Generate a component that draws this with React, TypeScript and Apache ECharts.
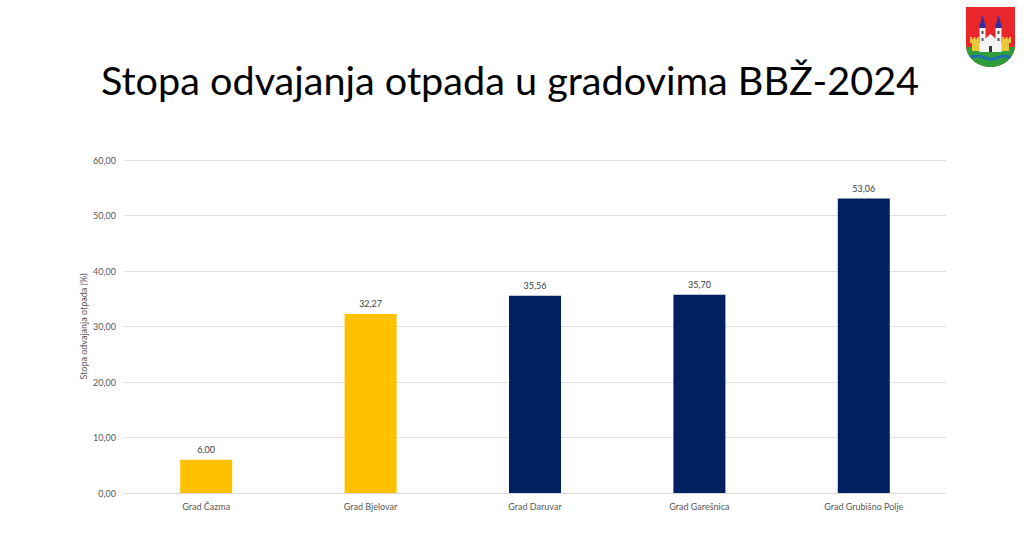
import React, { useEffect, useRef } from "react";
import * as echarts from "echarts";

const titleText = "Stopa odvajanja otpada u gradovima BBŽ-2024";
const yAxisName = "Stopa odvajanja otpada (%)";
const categories = ["Grad Čazma", "Grad Bjelovar", "Grad Daruvar", "Grad Garešnica", "Grad Grubišno Polje"];
const values = [6.0, 32.27, 35.56, 35.7, 53.06];
const barColors = ["#FFC000", "#FFC000", "#002060", "#002060", "#002060"];

const fmt = (v: number) => v.toFixed(2).replace(".", ",");

const clipD = "M0 0H49V38C49 50 38 60 24.5 60C11 60 0 50 0 38Z";
const greenD = "M0 40H49V38C49 50 38 60 24.5 60C11 60 0 50 0 38Z";
const waveD = "M4 49C9 47 13 47 18 49C23 51 27 51 32 49C37 47 41 47 45 49L43.5 52C39 50 36 50 32 52C27 54 23 54 18 52C13 50 10 50 5.5 52Z";
const wallD = "M4 30H6V32H7.5V30H9.5V32H11V30H13V36H36V30H38V32H39.5V30H41.5V32H43V30H45V36H43V44H6V36H4Z";
const churchD = "M19 45V32L24.5 27L30 32V45Z";

let registered = false;
function registerShapes() {
  if (registered) return;
  registered = true;
  const g = echarts.graphic as any;
  g.registerShape("shieldBase", g.extendPath(clipD, {}));
  g.registerShape("shieldGreen", g.extendPath(greenD, {}));
  g.registerShape("shieldWave", g.extendPath(waveD, {}));
  g.registerShape("shieldWall", g.extendPath(wallD, {}));
  g.registerShape("shieldChurch", g.extendPath(churchD, {}));
}

export default function App() {
  const ref = useRef<HTMLDivElement>(null);
  useEffect(() => {
    document.body.style.margin = "0";
    registerShapes();
    const chart = echarts.init(ref.current!, undefined, { renderer: "svg" });
    const towers = [16.5, 32.5].map((x) => [
      { type: "polygon", shape: { points: [[x, 8], [x + 3.5, 21], [x - 3.5, 21]] }, style: { fill: "#2E2E9E" } },
      { type: "rect", shape: { x: x - 3, y: 21, width: 6, height: 24 }, style: { fill: "#F4F4F4" } },
      { type: "rect", shape: { x: x - 1, y: 24, width: 2, height: 3 }, style: { fill: "#555555" } },
      { type: "rect", shape: { x: x - 1, y: 31, width: 2, height: 3 }, style: { fill: "#555555" } },
    ]).flat();
    chart.setOption({
      animation: false,
      backgroundColor: "#FFFFFF",
      title: {
        text: titleText,
        left: 505,
        top: 54,
        textAlign: "center",
        textStyle: { fontFamily: "Lato", fontSize: 39.6, fontWeight: "normal", color: "#000000" },
      },
      grid: { left: 124, right: 78, top: 160, bottom: 66, containLabel: false },
      xAxis: {
        type: "category",
        data: categories,
        axisTick: { show: false },
        axisLine: { lineStyle: { color: "#D9D9D9", width: 1 } },
        axisLabel: { fontFamily: "Lato", fontSize: 9, color: "#595959", margin: 9 },
      },
      yAxis: {
        type: "value",
        min: 0,
        max: 60,
        interval: 10,
        name: yAxisName,
        nameLocation: "middle",
        nameGap: 36,
        nameMoveOverlap: false,
        nameTextStyle: { fontFamily: "Lato", fontSize: 9, color: "#595959" },
        axisLine: { show: false },
        axisTick: { show: false },
        axisLabel: { fontFamily: "Lato", fontSize: 9, color: "#595959", margin: 8, formatter: (v: number) => fmt(v) },
        splitLine: { lineStyle: { color: "#E2E2E2", width: 1 } },
      },
      series: [
        {
          type: "bar",
          barWidth: 52,
          data: values.map((v, i) => ({ value: v, itemStyle: { color: barColors[i] } })),
          label: {
            show: true,
            position: "top",
            distance: 6,
            fontFamily: "Lato",
            fontSize: 9,
            color: "#404040",
            formatter: (p: any) => fmt(p.value),
          },
        },
      ],
      graphic: [
        {
          type: "group",
          x: 966,
          y: 7,
          children: [
            { type: "shieldBase", style: { fill: "#E8262C" } },
            { type: "shieldGreen", style: { fill: "#2E9E3A" } },
            { type: "shieldWall", style: { fill: "#E9C93A" } },
            { type: "shieldWave", style: { fill: "#1F6FB5" } },
            ...towers,
            { type: "shieldChurch", style: { fill: "#F4F4F4" } },
            { type: "rect", shape: { x: 23, y: 39, width: 3, height: 6 }, style: { fill: "#333333" } },
          ],
        },
      ],
    });
    return () => chart.dispose();
  }, []);
  return <div ref={ref} style={{ position: "absolute", left: 0, top: 0, width: 1024, height: 559 }} />;
}
